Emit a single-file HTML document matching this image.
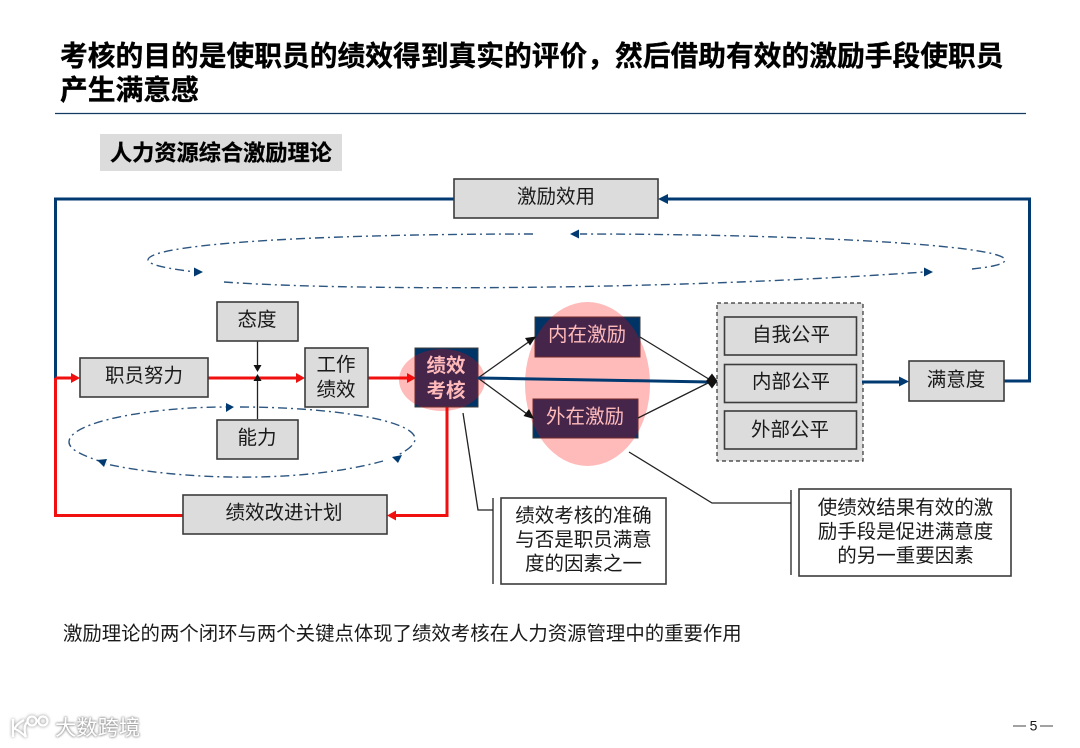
<!DOCTYPE html>
<html lang="zh">
<head>
<meta charset="utf-8">
<title>人力资源综合激励理论</title>
<style>
html,body{margin:0;padding:0;background:#fff;width:1080px;height:748px;overflow:hidden}
#wrap{position:relative;width:1080px;height:748px}
svg{position:absolute;left:0;top:0;font-family:"Liberation Sans","Noto Sans CJK SC",sans-serif}
#main{filter:blur(.35px)}
text{dominant-baseline:central;fill:#1a1a1a}
.c{text-anchor:middle;font-size:19.5px}
.box{fill:#dcdcdc;stroke:#3c3c3c;stroke-width:1.6}
.w{fill:#fff;stroke:#3c3c3c;stroke-width:1.6}
.n{fill:#003366;stroke:#3c3c3c;stroke-width:1}
.red{fill:none;stroke:#f01010;stroke-width:3}
.blue{fill:none;stroke:#003a70;stroke-width:3}
.k{fill:none;stroke:#222;stroke-width:1.3}
.dd{fill:none;stroke:#2c5580;stroke-width:1.4;stroke-dasharray:9 4 2 4}
.wm{position:absolute;color:#fff;text-shadow:0 0 2px #999,0 0 2px #999,0 0 3px #bbb;font-family:"Liberation Sans","Noto Sans CJK SC",sans-serif}
</style>
</head>
<body>
<div id="wrap">
<svg id="main" width="1080" height="748" viewBox="0 0 1080 748">
<text x="60" y="56" font-size="27.75" font-weight="700" stroke="#000" stroke-width=".35" style="fill:#000">考核的目的是使职员的绩效得到真实的评价，然后借助有效的激励手段使职员</text>
<text x="60" y="90" font-size="27.75" font-weight="700" stroke="#000" stroke-width=".35" style="fill:#000">产生满意感</text>
<line x1="55" y1="113.5" x2="1026" y2="113.5" stroke="#123a63" stroke-width="1.2"/>
<rect x="100" y="134" width="242" height="37" fill="#dcdcdc"/>
<text x="110" y="153" font-size="22.2" font-weight="700" stroke="#000" stroke-width=".3" style="fill:#000">人力资源综合激励理论</text>

<!-- big blue loop -->
<path class="blue" d="M454 199H55.5V378"/>
<path class="blue" d="M1004 381H1029.5V199H666"/>
<polygon points="658,199 668,194 668,204" fill="#003a70"/>

<!-- dash-dot ellipse top -->
<path class="dd" d="M533 234 C 300 234 148 245 148 260 C 148 265 170 269 196 272"/>
<polygon points="203,272 194,267.5 194,276.5" fill="#003a70"/>
<path class="dd" d="M224 282 C 330 290 640 292 924 272"/>
<polygon points="933,272 924,267.5 924,276.5" fill="#003a70"/>
<path class="dd" d="M972 269 C 992 267 1005 264 1005 260 C 1005 245 800 234 580 234"/>
<polygon points="570,234 579,229.5 579,238.5" fill="#003a70"/>

<!-- dash-dot ellipse bottom -->
<path class="dd" d="M105 463 C 84 456 69 450 69 442 C 69 422 150 407 226 407"/>
<polygon points="234,407 226,403 226,412" fill="#003a70"/>
<path class="dd" d="M240 407 C 330 407 415 420 415 439 C 415 445 406 451 398 455"/>
<polygon points="392,458 402,456 398,464" fill="#003a70" transform="translate(0,-1)"/>
<path class="dd" d="M383 461 C 300 484 180 480 106 464"/>
<polygon points="97,460 107,459 104,467" fill="#003a70"/>

<!-- red lines -->
<path class="red" d="M55.5 378H72"/>
<polygon points="80,378 71,373 71,383" fill="#f01010"/>
<path class="red" d="M55.5 378V515.500H183"/>
<path class="red" d="M208 378H296"/>
<polygon points="305,378 296,373 296,383" fill="#f01010"/>
<path class="red" d="M368 378H407"/>
<polygon points="416,378 407,373 407,383" fill="#f01010"/>
<path class="red" d="M447 407V515.500H396"/>
<polygon points="387,515.500 396,510.500 396,520.500" fill="#f01010"/>

<!-- vertical black -->
<line class="k" x1="257.500" y1="341" x2="257.500" y2="367"/>
<polygon points="257.500,372 253.500,365 261.500,365" fill="#111"/>
<line class="k" x1="257.500" y1="419" x2="257.500" y2="379"/>
<polygon points="257.500,374 253.500,381 261.500,381" fill="#111"/>

<rect class="box" x="217" y="302" width="81" height="39"/>
<text class="c" x="257" y="320">态度</text>
<rect class="box" x="80" y="358" width="128" height="39"/>
<text class="c" x="144" y="376">职员努力</text>
<rect class="box" x="305" y="348" width="63" height="59"/>
<text class="c" x="336" y="365">工作</text>
<text class="c" x="336" y="390">绩效</text>
<rect class="box" x="217" y="420" width="81" height="39"/>
<text class="c" x="257" y="438">能力</text>
<rect class="box" x="183" y="495" width="204" height="39"/>
<text class="c" x="284" y="513">绩效改进计划</text>
<rect class="box" x="454" y="179" width="204" height="39"/>
<text class="c" x="556" y="197">激励效用</text>

<!-- dark boxes -->
<rect class="n" x="415" y="348" width="63" height="59"/>
<text class="c" x="446" y="366" font-weight="700" style="fill:#fff">绩效</text>
<text class="c" x="446" y="391" font-weight="700" style="fill:#fff">考核</text>
<rect class="n" x="535" y="317" width="105" height="40"/>
<text class="c" x="587" y="335" style="fill:#fff">内在激励</text>
<rect class="n" x="533" y="399" width="105" height="39"/>
<text class="c" x="585" y="417" style="fill:#fff">外在激励</text>

<!-- pink overlays -->
<ellipse cx="442" cy="380" rx="43" ry="31" fill="#ff0000" fill-opacity=".27"/>
<ellipse cx="587.500" cy="384" rx="62.500" ry="82" fill="#ff0000" fill-opacity=".27"/>

<!-- connectors -->
<line class="k" x1="478" y1="378" x2="530" y2="341"/>
<polygon points="536,336.500 525,338 530,345.500" fill="#111"/>
<line class="k" x1="478" y1="378" x2="527" y2="414"/>
<polygon points="534,419 529,409 523.500,416" fill="#111"/>
<line class="k" x1="640" y1="337" x2="712" y2="381"/>
<line class="k" x1="638" y1="418" x2="712" y2="381"/>
<line x1="478" y1="378" x2="710" y2="382" stroke="#003a70" stroke-width="3"/>

<!-- fairness group -->
<rect x="717" y="303" width="146" height="158" fill="#dfdfdf" stroke="#333" stroke-width="1.200" stroke-dasharray="4 3"/>
<rect class="box" x="724.500" y="317" width="132" height="38"/>
<text class="c" x="791" y="335">自我公平</text>
<rect class="box" x="724.500" y="364.500" width="132" height="38"/>
<text class="c" x="791" y="382">内部公平</text>
<rect class="box" x="724.500" y="411" width="132" height="38"/>
<text class="c" x="790" y="430">外部公平</text>
<polygon points="706,381 712,373.500 717.500,381 712,388.500" fill="#111"/>

<path class="blue" d="M862 382H900"/>
<polygon points="909,381.500 899,376.500 899,386.500" fill="#003a70"/>
<rect class="box" x="909" y="361" width="95" height="40"/>
<text class="c" x="956" y="380">满意度</text>

<!-- callouts -->
<polyline class="k" points="463,413 478,510 493,510"/>
<line class="k" x1="493" y1="498" x2="493" y2="584"/>
<rect class="w" x="501" y="498" width="165" height="86"/>
<text class="c" x="583.500" y="516">绩效考核的准确</text>
<text class="c" x="583.500" y="540">与否是职员满意</text>
<text class="c" x="583.500" y="564">度的因素之一</text>
<polyline class="k" points="629,452 712,503 791,503"/>
<line class="k" x1="791" y1="490" x2="791" y2="575"/>
<rect class="w" x="799" y="489" width="212" height="87"/>
<text class="c" x="905.500" y="508">使绩效结果有效的激</text>
<text class="c" x="905.500" y="532">励手段是促进满意度</text>
<text class="c" x="905.500" y="556">的另一重要因素</text>

<text x="63" y="634" font-size="19.4">激励理论的两个闭环与两个关键点体现了绩效考核在人力资源管理中的重要作用</text>
<line x1="1013" y1="726" x2="1026" y2="726" stroke="#444" stroke-width="1"/>
<text x="1033.500" y="725.500" font-size="14" text-anchor="middle">5</text>
<line x1="1040" y1="726" x2="1053" y2="726" stroke="#444" stroke-width="1"/>
</svg>
<svg width="60" height="748" viewBox="0 0 60 748" style="filter:drop-shadow(0 0 1.5px #888)">
<g fill="none" stroke="#fff" stroke-width="2.2">
<path d="M13 719V737M24 720C17 724 15 727 15 729C18 730 23 734 26 737"/>
<path d="M26 737C24 731 24 726 27 722"/>
<circle cx="32" cy="721" r="4.500"/>
<circle cx="43" cy="721" r="4.500"/>
</g>
</svg>
<div class="wm" style="left:55px;top:716px;font-size:21.3px;line-height:24px;white-space:nowrap">大数跨境</div>
</div>
</body>
</html>
